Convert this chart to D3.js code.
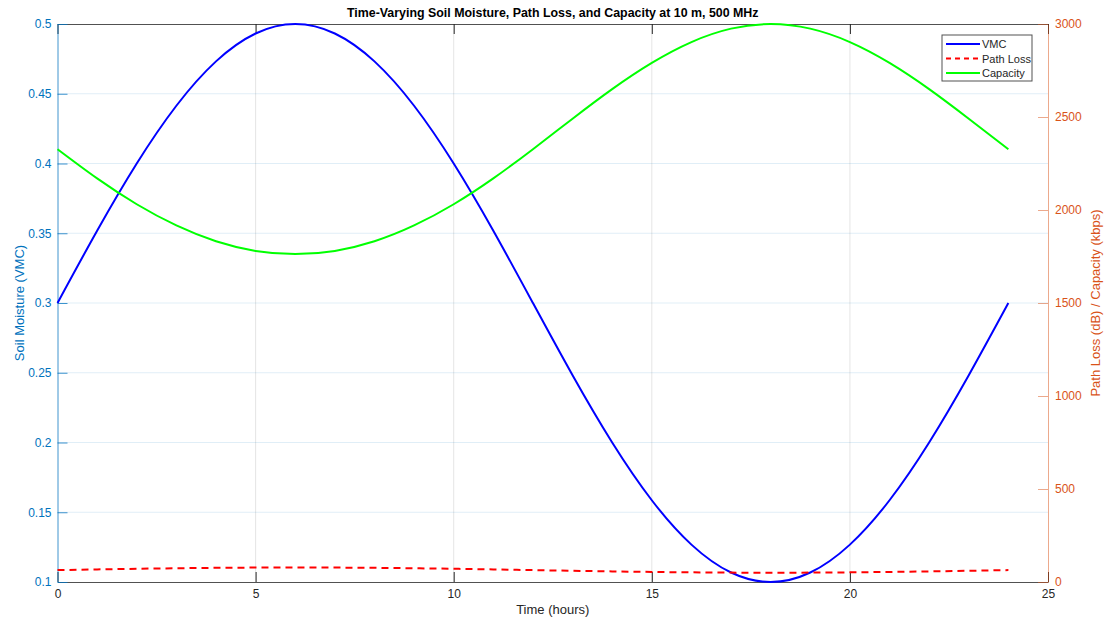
<!DOCTYPE html>
<html>
<head>
<meta charset="utf-8">
<script src="https://cdn.jsdelivr.net/npm/d3@7"></script>
<style>
  body { margin: 0; background: #fff; }
  text { font-family: "Liberation Sans", Arial, sans-serif; }
</style>
</head>
<body>
<div id="chart"></div>
<script>
// DATA (hourly)
const hours = [0,1,2,3,4,5,6,7,8,9,10,11,12,13,14,15,16,17,18,19,20,21,22,23,24]
const vmc = [0.3,0.3518,0.4,0.4414,0.4732,0.4932,0.5,0.4932,0.4732,0.4414,0.4,0.3518,0.3,
  0.2482,0.2,0.1586,0.1268,0.1068,0.1,0.1068,0.1268,0.1586,0.2,0.2482,0.3]
const pathLoss = [64,67.6,71,73.9,76.1,77.5,78,77.5,76.1,73.9,71,67.6,64,
  60.4,57,54.1,51.9,50.5,50,50.5,51.9,54.1,57,60.4,64]
const capacity = [2327,2170,2031,1917,1832,1780,1763,1780,1832,1917,2031,2170,2327,
  2491,2650,2791,2903,2975,3000,2975,2903,2791,2650,2491,2327]

const xTicks = [0,5,10,15,20,25]
const yLeftTicks = [0.1,0.15,0.2,0.25,0.3,0.35,0.4,0.45,0.5]
const yRightTicks = [0,500,1000,1500,2000,2500,3000]

const width = 1115, height = 624
const margin = {top: 24, right: 67, bottom: 42, left: 57.5}
const blue = "#0072BD", orange = "#D95319", dark = "#262626"

const svg = d3.select("#chart").append("svg")
  .attr("width", width)
  .attr("height", height)

const xScale = d3.scaleLinear().domain([0, 25]).range([margin.left, width - margin.right])
const yLeft = d3.scaleLinear().domain([0.1, 0.5]).range([height - margin.bottom, margin.top])
const yRight = d3.scaleLinear().domain([0, 3000]).range([height - margin.bottom, margin.top])

const x0 = margin.left, x1 = width - margin.right
const yTop = margin.top, yBot = height - margin.bottom

// GRID
svg.append("g").selectAll("line")
  .data(xTicks.slice(1, -1))
  .join("line")
    .attr("x1", d => xScale(d)).attr("x2", d => xScale(d))
    .attr("y1", yTop).attr("y2", yBot)
    .attr("stroke", dark).attr("stroke-opacity", 0.12)

svg.append("g").selectAll("line")
  .data(yLeftTicks.slice(1, -1))
  .join("line")
    .attr("x1", x0).attr("x2", x1)
    .attr("y1", d => yLeft(d)).attr("y2", d => yLeft(d))
    .attr("stroke", blue).attr("stroke-opacity", 0.12)

// AXES
svg.append("g")
  .attr("transform", `translate(0,${yBot})`)
  .call(d3.axisBottom(xScale).tickValues(xTicks).tickSize(-10).tickPadding(7).tickSizeOuter(0))
  .call(g => g.select(".domain").attr("stroke", dark).attr("stroke-opacity", 0.8))
  .call(g => g.selectAll(".tick line").attr("stroke", dark))
  .call(g => g.selectAll("text").attr("fill", dark).attr("font-size", 12))

// top border with ticks
svg.append("g")
  .attr("transform", `translate(0,${yTop})`)
  .call(d3.axisTop(xScale).tickValues(xTicks).tickSize(-10).tickFormat("").tickSizeOuter(0))
  .call(g => g.select(".domain").attr("stroke", dark).attr("stroke-opacity", 0.8))
  .call(g => g.selectAll(".tick line").attr("stroke", dark))

svg.append("g")
  .attr("transform", `translate(${x0},0)`)
  .call(d3.axisLeft(yLeft).tickValues(yLeftTicks).tickSize(-10).tickPadding(6).tickSizeOuter(0)
    .tickFormat(d3.format("~g")))
  .call(g => g.select(".domain").attr("stroke", blue).attr("stroke-opacity", 0.75))
  .call(g => g.selectAll(".tick line").attr("stroke", blue).attr("stroke-opacity", 0.75))
  .call(g => g.selectAll("text").attr("fill", blue).attr("font-size", 12))

svg.append("g")
  .attr("transform", `translate(${x1},0)`)
  .call(d3.axisRight(yRight).tickValues(yRightTicks).tickSize(-10).tickPadding(7).tickSizeOuter(0)
    .tickFormat(d3.format("d")))
  .call(g => g.select(".domain").attr("stroke", orange).attr("stroke-opacity", 0.5))
  .call(g => g.selectAll(".tick line").attr("stroke", orange).attr("stroke-opacity", 0.5))
  .call(g => g.selectAll("text").attr("fill", orange).attr("font-size", 12))

// LINES
const rows = hours.map((h, i) => ({h: h, vmc: vmc[i], pl: pathLoss[i], cap: capacity[i]}))

svg.append("path")
  .datum(rows)
  .attr("fill", "none").attr("stroke", "#0000FF").attr("stroke-width", 2)
  .attr("d", d3.line().x(d => xScale(d.h)).y(d => yLeft(d.vmc)).curve(d3.curveNatural))

svg.append("path")
  .datum(rows)
  .attr("fill", "none").attr("stroke", "#FF0000").attr("stroke-width", 2)
  .attr("stroke-dasharray", "7,5")
  .attr("d", d3.line().x(d => xScale(d.h)).y(d => yRight(d.pl)).curve(d3.curveNatural))

svg.append("path")
  .datum(rows)
  .attr("fill", "none").attr("stroke", "#00FF00").attr("stroke-width", 2)
  .attr("d", d3.line().x(d => xScale(d.h)).y(d => yRight(d.cap)).curve(d3.curveNatural))

// TITLE + LABELS
svg.append("text")
  .attr("x", (x0 + x1) / 2).attr("y", 17)
  .attr("text-anchor", "middle")
  .attr("font-size", 12.4).attr("font-weight", "bold").attr("fill", "#000")
  .text("Time-Varying Soil Moisture, Path Loss, and Capacity at 10 m, 500 MHz")

svg.append("text")
  .attr("x", (x0 + x1) / 2).attr("y", 614)
  .attr("text-anchor", "middle")
  .attr("font-size", 13).attr("fill", dark)
  .text("Time (hours)")

svg.append("text")
  .attr("transform", `translate(24,${(yTop + yBot) / 2}) rotate(-90)`)
  .attr("text-anchor", "middle")
  .attr("font-size", 13).attr("fill", blue)
  .text("Soil Moisture (VMC)")

svg.append("text")
  .attr("transform", `translate(1100,${(yTop + yBot) / 2}) rotate(-90)`)
  .attr("text-anchor", "middle")
  .attr("font-size", 13).attr("fill", orange)
  .text("Path Loss (dB) / Capacity (kbps)")

// LEGEND
const legendData = [
  {name: "VMC", color: "#0000FF", dash: null},
  {name: "Path Loss", color: "#FF0000", dash: "5,4"},
  {name: "Capacity", color: "#00FF00", dash: null}
]
const legend = svg.append("g").attr("transform", "translate(942,35)")
legend.append("rect")
  .attr("width", 90).attr("height", 46)
  .attr("fill", "#fff").attr("stroke", dark).attr("stroke-opacity", 0.8)
legend.selectAll("line")
  .data(legendData)
  .join("line")
    .attr("x1", 4).attr("x2", 38)
    .attr("y1", (d, i) => 9 + i * 14.5).attr("y2", (d, i) => 9 + i * 14.5)
    .attr("stroke", d => d.color).attr("stroke-width", 2)
    .attr("stroke-dasharray", d => d.dash)
legend.selectAll("text")
  .data(legendData)
  .join("text")
    .attr("x", 40).attr("y", (d, i) => 13 + i * 14.5)
    .attr("font-size", 11).attr("fill", dark)
    .text(d => d.name)
</script>
</body>
</html>
